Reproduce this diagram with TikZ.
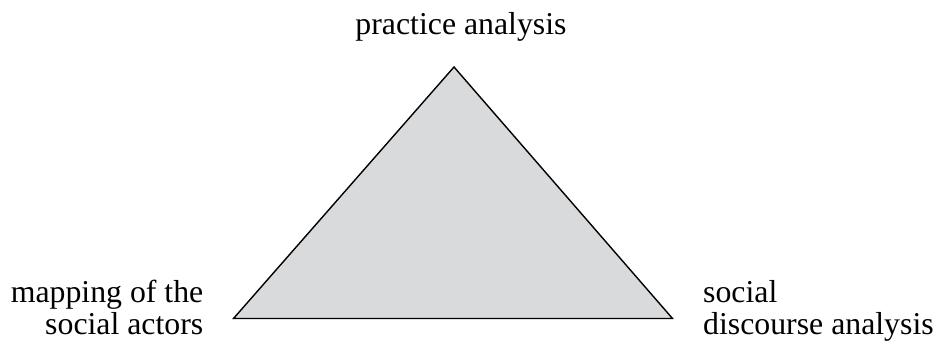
\documentclass[tikz,border=0pt]{standalone}
\usepackage{fontspec}
\setmainfont{Liberation Serif}
\definecolor{trifill}{HTML}{D9DADC}
\begin{document}
\begin{tikzpicture}[x=1pt,y=1pt,
  lbl/.style={font=\fontsize{31.8}{31.5}\selectfont, inner sep=0pt}]
\useasboundingbox (0,0) rectangle (936,348);
\coordinate (top) at (454,281);
\coordinate (bl) at (233.5,29.5);
\coordinate (br) at (672.5,29.5);
\filldraw[fill=trifill, draw=black, line width=1.4pt, line join=miter] (top) -- (bl) -- (br) -- cycle;
\node[lbl, anchor=base] (pa) at (461,313) {practice analysis};
\node[lbl, anchor=base east, align=right] (ma) at (203.5,14) {mapping of the\\social actors};
\node[lbl, anchor=base west, align=left] (sd) at (703,14) {social\\discourse analysis};
\end{tikzpicture}
\end{document}
